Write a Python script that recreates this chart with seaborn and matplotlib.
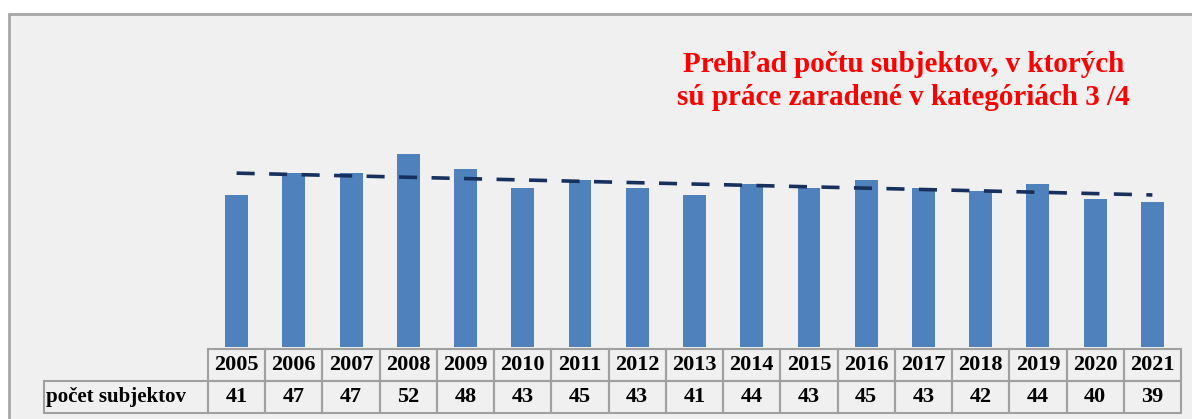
import numpy as np
import pandas as pd
import matplotlib
matplotlib.use('Agg')
import matplotlib.pyplot as plt
import matplotlib.patches as patches
import seaborn as sns

# data
years = ['2005', '2006', '2007', '2008', '2009', '2010', '2011', '2012', '2013',
         '2014', '2015', '2016', '2017', '2018', '2019', '2020', '2021']
subjects = [41, 47, 47, 52, 48, 43, 45, 43, 41, 44, 43, 45, 43, 42, 44, 40, 39]
row_label = 'počet subjektov'
title = 'Prehľad počtu subjektov, v ktorých\nsú práce zaradené v kategóriách 3 /4'

df = pd.DataFrame({'rok': years, 'pocet': subjects})

sns.set_style('white')
plt.rcParams['font.family'] = ['Liberation Serif', 'DejaVu Serif']

W, H = 1192, 419
fig = plt.figure(figsize=(W / 100, H / 100), dpi=100, facecolor='white')

# outer chart frame
frame = patches.Rectangle((9 / W, -0.1), 1.1, (H - 14) / H + 0.1, transform=fig.transFigure,
                          facecolor='#f0f0f0', edgecolor='#a6a6a6', linewidth=2, zorder=-5)
fig.patches.append(frame)

ax = fig.add_axes([208 / W, (H - 347) / H, (1181 - 208) / W, (347 - 14) / H])
ax.patch.set_alpha(0)

sns.barplot(data=df, x='rok', y='pocet', color='#4f81bd', width=0.4, saturation=1,
            linewidth=0, ax=ax, zorder=2)

# linear trend
sns.regplot(x=np.arange(len(subjects)), y=np.array(subjects), scatter=False, ci=None,
            ax=ax, line_kws={'color': '#17305e', 'linewidth': 2.6, 'linestyle': (0, (5, 4)),
                             'zorder': 3})

ax.set_xlim(-0.5, len(years) - 0.5)
ax.set_ylim(0, 89.8)
ax.set_xlabel('')
ax.set_ylabel('')
ax.set_xticks([])
ax.set_yticks([])
sns.despine(ax=ax, left=True, bottom=True)

ax.text(0.715, 0.80, title, transform=ax.transAxes, ha='center', va='center',
        color='#ff0000', fontsize=21, fontweight='bold', linespacing=1.28)

# data table
cell_text = [[''] + years, [row_label] + [str(v) for v in subjects]]
label_w = 208 - 44
col_w = (1181 - 208) / len(years)
total = label_w + col_w * len(years)
tbl = ax.table(cellText=cell_text, colWidths=[label_w / total] + [col_w / total] * len(years),
               cellLoc='center',
               bbox=[(44 - 208) / (1181 - 208), (347 - 413) / 333, total / (1181 - 208), 64 / 333])
tbl.auto_set_font_size(False)
for (r, c), cell in tbl.get_celld().items():
    cell.set_edgecolor('#a0a0a0')
    cell.set_linewidth(1.5)
    cell.set_facecolor('none')
    cell.get_text().set_fontsize(16)
    cell.get_text().set_fontweight('bold')
    cell.get_text().set_color('black')
    if r == 0 and c == 0:
        cell.visible_edges = 'open'
    if r == 1 and c == 0:
        cell.get_text().set_ha('left')
        cell.get_text().set_fontsize(15)
        cell.PAD = 0.01

fig.savefig('out.png', dpi=100, facecolor='white')
